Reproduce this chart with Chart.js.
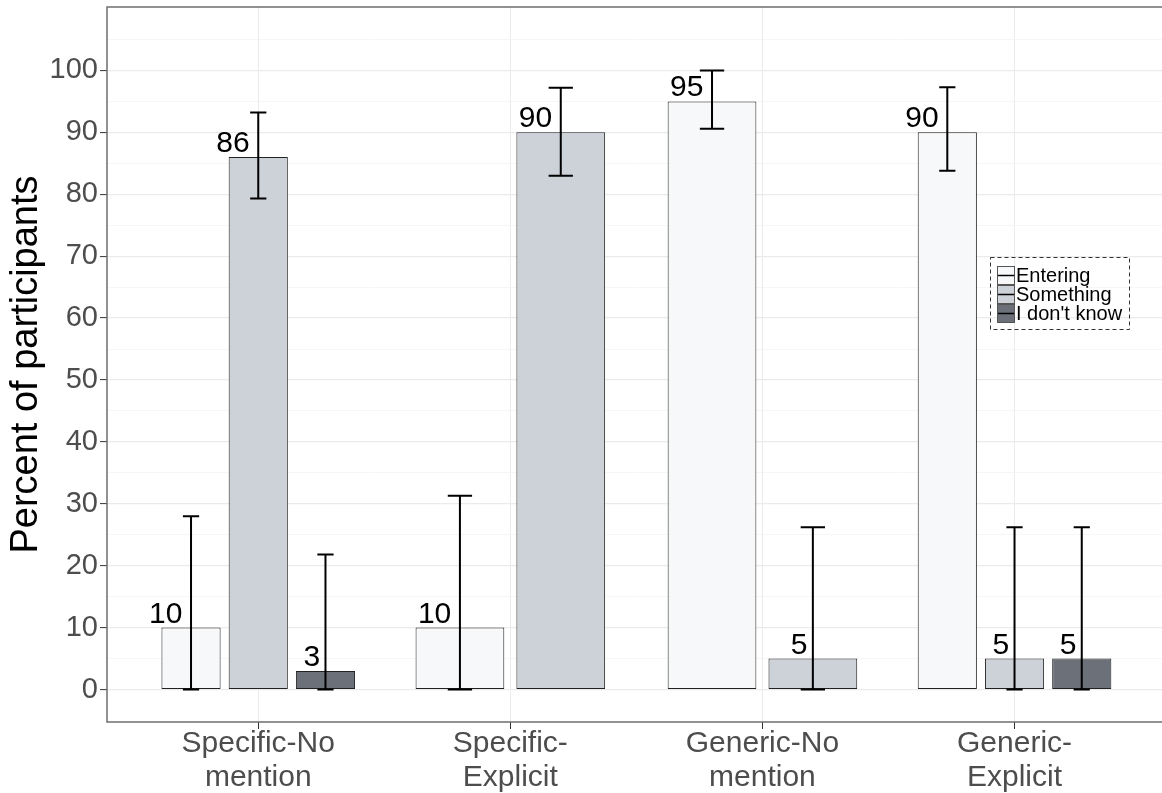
<!DOCTYPE html>
<html>
<head>
<meta charset="utf-8">
<script src="https://cdn.jsdelivr.net/npm/chart.js@4/dist/chart.umd.min.js"></script>
<style>
  html, body { margin: 0; padding: 0; background: #fff; overflow: hidden; }
  #wrap { width: 1162px; height: 793px; position: relative; }
</style>
</head>
<body>
<div id="wrap"><canvas id="chart"></canvas></div>
<script>
// Categories and series (percent of participants)
const categories = [['Specific-No', 'mention'], ['Specific-', 'Explicit'], ['Generic-No', 'mention'], ['Generic-', 'Explicit']];
const seriesNames = ['Entering', 'Something', "I don't know"];

const entering = [10, 10, 95, 90];
const something = [86, 90, 5, 5];
const dontKnow = [3, null, null, 5];

// Error bar limits
const enteringLow = [0, 0, 90.6, 83.8];
const enteringHigh = [28, 31.3, 100, 97.3];
const somethingLow = [79.3, 83, 0, 0];
const somethingHigh = [93.2, 97.2, 26.2, 26.2];
const dontKnowLow = [0, null, null, 0];
const dontKnowHigh = [21.8, null, null, 26.2];

// Axis ticks
const yTicks = [0, 10, 20, 30, 40, 50, 60, 70, 80, 90, 100];
const yMinorTicks = [5, 15, 25, 35, 45, 55, 65, 75, 85, 95, 105];

const colors = ['#f7f8fa', '#cdd1d8', '#6b7079'];
const FONT = '"Liberation Sans", Arial, sans-serif';
Chart.defaults.font.family = FONT;

function makeSeries(label, values, low, high, color) {
    return {
        label: label,
        data: values.map((v, i) => ({ x: i + 1, y: v })),
        errLow: low,
        errHigh: high,
        backgroundColor: color,
        borderColor: '#222222',
        borderWidth: 1,
        borderSkipped: false
    };
}

// Error bars + value labels
const errorBarPlugin = {
    id: 'errorBars',
    afterDatasetsDraw(chart) {
        const ctx = chart.ctx;
        const yScale = chart.scales.y;
        chart.data.datasets.forEach((ds, di) => {
            const meta = chart.getDatasetMeta(di);
            meta.data.forEach((bar, i) => {
                const v = ds.data[i].y;
                if (v === null) return;
                const lo = yScale.getPixelForValue(ds.errLow[i]);
                const hi = yScale.getPixelForValue(ds.errHigh[i]);
                const half = bar.width * 0.137;
                ctx.save();
                ctx.strokeStyle = '#000';
                ctx.lineWidth = 2;
                ctx.beginPath();
                ctx.moveTo(bar.x, lo); ctx.lineTo(bar.x, hi);
                ctx.moveTo(bar.x - half, lo); ctx.lineTo(bar.x + half, lo);
                ctx.moveTo(bar.x - half, hi); ctx.lineTo(bar.x + half, hi);
                ctx.stroke();

                ctx.font = '30px ' + FONT;
                ctx.fillStyle = '#000';
                ctx.textAlign = 'right';
                ctx.textBaseline = 'alphabetic';
                const txt = String(v);
                const w = ctx.measureText(txt).width;
                ctx.fillText(txt, bar.x - 2 - 0.2 * w, bar.y - 5);
                ctx.restore();
            });
        });
    }
};

// Panel border and legend box inside the panel
const panelPlugin = {
    id: 'panel',
    afterDraw(chart) {
        const ctx = chart.ctx;
        const a = chart.chartArea;
        ctx.save();
        ctx.strokeStyle = '#6e6e6e';
        ctx.lineWidth = 1.5;
        ctx.strokeRect(a.left, a.top, a.right - a.left + 20, a.bottom - a.top);

        // legend
        const bx = 990, by = 257, bw = 139, bh = 72;
        ctx.lineWidth = 1;
        ctx.strokeStyle = '#333';
        ctx.setLineDash([4, 3]);
        ctx.strokeRect(bx + 0.5, by + 0.5, bw, bh);
        ctx.setLineDash([]);
        const kx = 997, ky = 266, kw = 18, kh = 19;
        seriesNames.forEach((name, i) => {
            const y0 = ky + i * kh;
            ctx.fillStyle = colors[i];
            ctx.fillRect(kx, y0, kw, kh);
            ctx.strokeStyle = '#555';
            ctx.lineWidth = 1;
            ctx.strokeRect(kx + 0.5, y0 + 0.5, kw - 1, kh - 1);
            ctx.strokeStyle = '#000';
            ctx.lineWidth = 1.5;
            ctx.beginPath();
            ctx.moveTo(kx + 1, y0 + kh / 2); ctx.lineTo(kx + kw - 1, y0 + kh / 2);
            ctx.stroke();
            ctx.fillStyle = '#000';
            ctx.font = '20px ' + FONT;
            ctx.textAlign = 'left';
            ctx.textBaseline = 'middle';
            ctx.fillText(name, kx + kw + 1, y0 + kh / 2 + 1);
        });
        ctx.restore();
    }
};

new Chart(document.getElementById('chart'), {
    type: 'bar',
    data: {
        datasets: [
            makeSeries(seriesNames[0], entering, enteringLow, enteringHigh, colors[0]),
            makeSeries(seriesNames[1], something, somethingLow, somethingHigh, colors[1]),
            makeSeries(seriesNames[2], dontKnow, dontKnowLow, dontKnowHigh, colors[2])
        ]
    },
    options: {
        responsive: true,
        maintainAspectRatio: false,
        animation: false,
        skipNull: true,
        categoryPercentage: 0.8,
        barPercentage: 0.88,
        layout: { padding: { top: 7, left: 0, right: 0, bottom: 0 } },
        plugins: { legend: { display: false }, tooltip: { enabled: false } },
        scales: {
            x: {
                type: 'linear',
                offset: false,
                min: 0.4,
                max: 4.585,
                afterBuildTicks: (scale) => { scale.ticks = categories.map((c, i) => ({ value: i + 1 })); },
                afterFit: (scale) => { scale.height = 71; scale.paddingLeft = 0; scale.paddingRight = 0; },
                border: { display: false },
                grid: { offset: false, color: '#ebebeb', lineWidth: 1, tickLength: 7, tickColor: '#333333', tickWidth: 1 },
                ticks: {
                    autoSkip: false,
                    maxRotation: 0,
                    padding: -2,
                    color: '#4d4d4d',
                    font: { size: 30, lineHeight: 1.12 },
                    callback: (value) => categories[value - 1]
                }
            },
            y: {
                min: -5.25,
                max: 110.25,
                afterBuildTicks: (scale) => {
                    scale.ticks = yTicks.concat(yMinorTicks).sort((a, b) => a - b).map(v => ({ value: v }));
                },
                afterFit: (scale) => { scale.width = 107; scale.paddingTop = 0; scale.paddingBottom = 0; },
                border: { display: false },
                grid: {
                    color: (c) => (c.tick && c.tick.value % 10 === 0) ? '#ebebeb' : '#f4f4f4',
                    lineWidth: (c) => (c.tick && c.tick.value % 10 === 0) ? 1.2 : 0.8,
                    tickLength: 7,
                    tickColor: (c) => (c.tick && c.tick.value % 10 === 0) ? '#333333' : 'rgba(0,0,0,0)',
                    tickWidth: 1
                },
                ticks: {
                    autoSkip: false,
                    padding: 2,
                    color: '#4d4d4d',
                    font: { size: 29 },
                    callback: (value) => (value % 10 === 0 ? String(value) : '')
                },
                title: {
                    display: true,
                    text: 'Percent of participants',
                    color: '#000',
                    font: { size: 38 },
                    padding: { top: 4, bottom: 0 }
                }
            }
        }
    },
    plugins: [errorBarPlugin, panelPlugin]
});
</script>
</body>
</html>
